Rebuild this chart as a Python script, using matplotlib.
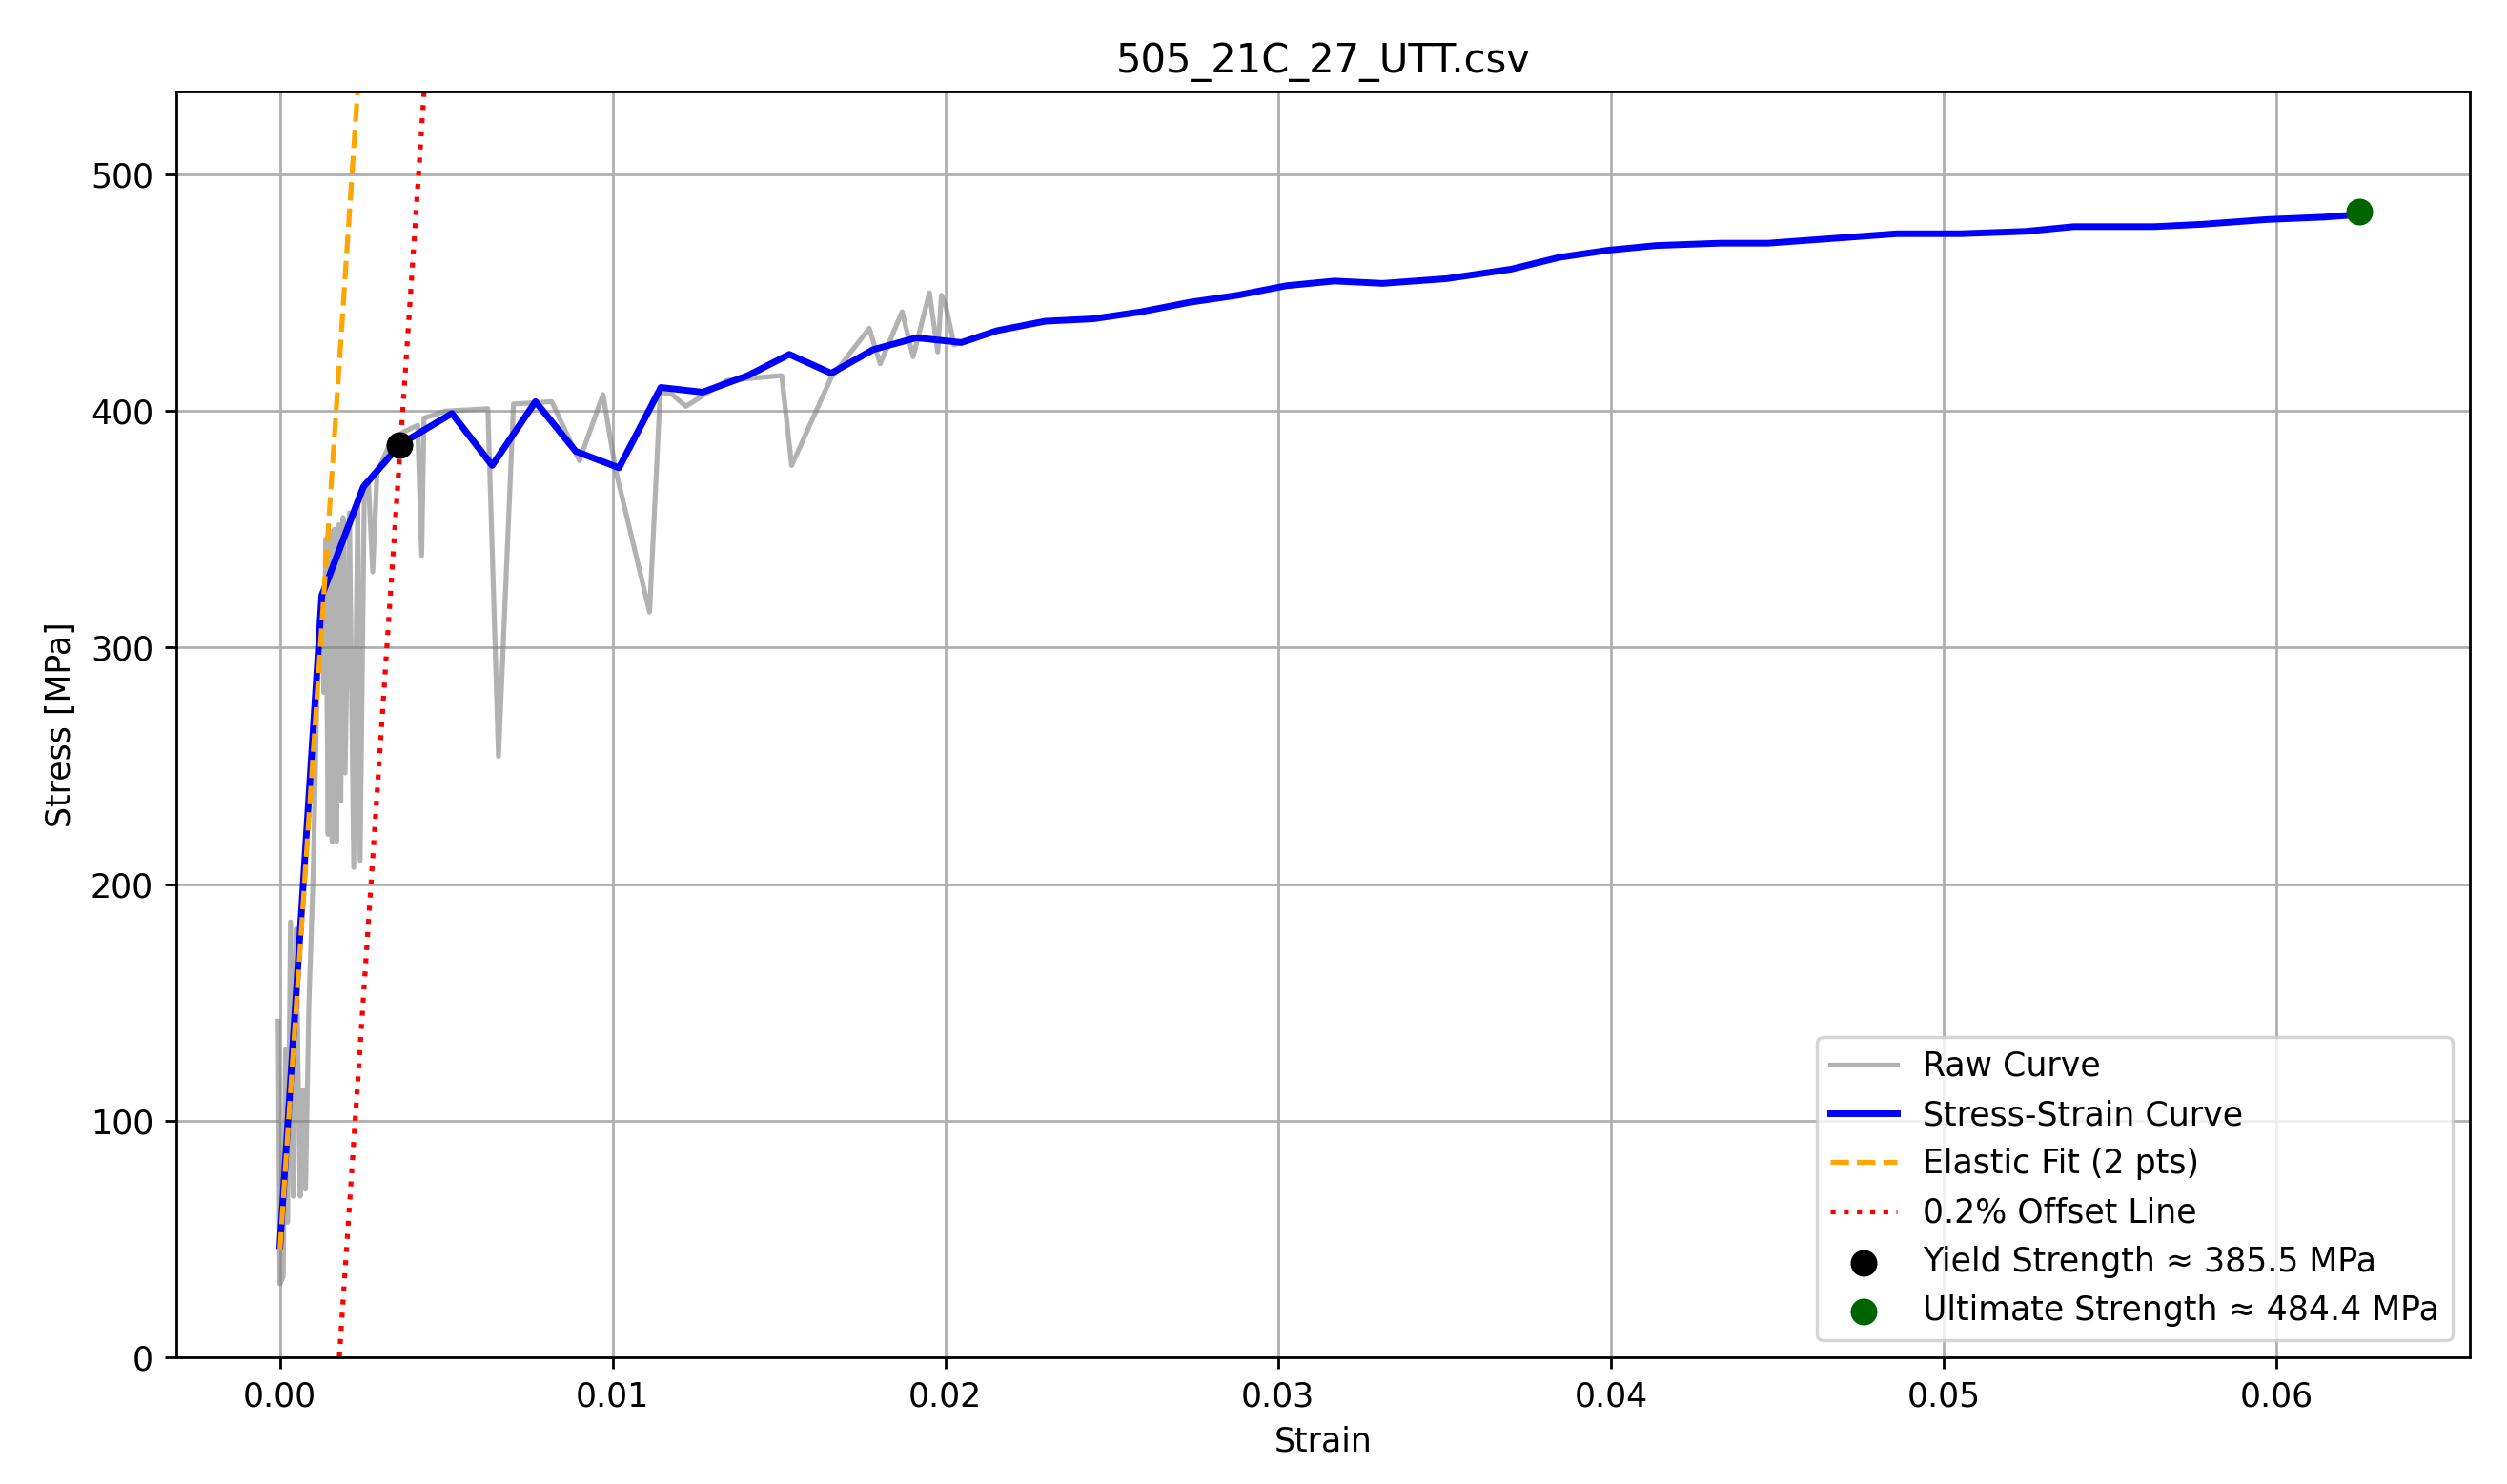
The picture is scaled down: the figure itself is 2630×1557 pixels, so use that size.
import numpy as np
import matplotlib
matplotlib.use("Agg")
import matplotlib.pyplot as plt

raw_strain = [-0.00005, 0, 0.0001, 0.00017, 0.00023, 0.00032, 0.0004, 0.00049, 0.00055, 0.00061, 0.00068,
              0.00077, 0.00087, 0.001, 0.00113, 0.00125, 0.00132, 0.00138, 0.00145, 0.00151, 0.00157, 0.00164,
              0.0017, 0.00177, 0.00183, 0.0019, 0.00196, 0.00209, 0.00222, 0.00234, 0.00241, 0.00254, 0.00266,
              0.00279, 0.00292, 0.0033, 0.00369, 0.00414, 0.00426, 0.00433, 0.00497, 0.00625, 0.00657, 0.00702,
              0.00817, 0.009, 0.00971, 0.01009, 0.01111, 0.01143, 0.01179, 0.0122, 0.01344, 0.01508, 0.01538,
              0.01656, 0.01771, 0.01804, 0.0187, 0.01903, 0.01952, 0.01977, 0.01988, 0.02002, 0.02026]
raw_stress = [142, 31, 34, 130, 57, 184, 68, 181, 119, 68, 113,
              71, 148, 204, 289, 323, 281, 346, 221, 349, 218, 350,
              218, 352, 235, 355, 247, 357, 207, 363, 210, 369, 370,
              332, 374, 386, 391, 394, 339, 397, 400, 401, 254, 403,
              404, 379, 407, 375, 315, 408, 407, 402, 413, 415, 377,
              414, 435, 420, 442, 423, 450, 425, 449, 444, 428]

ss_strain = [0, 0.00126, 0.00251, 0.00362, 0.00517, 0.00638, 0.00768, 0.00889, 0.01019, 0.01145, 0.0127,
             0.01406, 0.01531, 0.01657, 0.01783, 0.01913, 0.02048, 0.02155, 0.023, 0.02444, 0.02589, 0.02734,
             0.02879, 0.03024, 0.03169, 0.03314, 0.03507, 0.037, 0.03845, 0.0399, 0.04135, 0.04329, 0.04473,
             0.04667, 0.0486, 0.05053, 0.05246, 0.05391, 0.05633, 0.05778, 0.05971, 0.0614, 0.0624]
ss_stress = [47, 322, 368, 386, 399, 377, 404, 383, 376, 410, 408,
             415, 424, 416, 426, 431, 429, 434, 438, 439, 442, 446,
             449, 453, 455, 454, 456, 460, 465, 468, 470, 471, 471,
             473, 475, 475, 476, 478, 478, 479, 481, 482, 483]

E_mod = 210000.0
intercept = 45.0
yield_pt = (0.0036, 385.5)
ult_pt = (0.0625, 484.4)

rs = list(raw_strain) + [s for s in ss_strain if s > 0.0203]
rv = list(raw_stress) + [v for s, v in zip(ss_strain, ss_stress) if s > 0.0203]

fig = plt.figure(figsize=(10.52, 6.228), dpi=250)
ax = fig.add_axes([0.0705, 0.0856, 0.9145, 0.8525])
ax.plot(rs, rv, color="gray", alpha=0.6, lw=1.5, label="Raw Curve")
ax.plot(ss_strain, ss_stress, color="blue", lw=2, label="Stress-Strain Curve")
xe = np.array([0, 0.0026])
ax.plot(xe, E_mod * xe + intercept, "--", color="orange", lw=1.5, label="Elastic Fit (2 pts)")
xo = np.array([0.002 - intercept / E_mod, 0.0045])
ax.plot(xo, E_mod * (xo - 0.002) + intercept, ":", color="red", lw=1.5, label="0.2% Offset Line")
ax.scatter([yield_pt[0]], [yield_pt[1]], color="black", s=50, zorder=5,
           label=f"Yield Strength ≈ {yield_pt[1]:.1f} MPa")
ax.scatter([ult_pt[0]], [ult_pt[1]], color="darkgreen", s=50, zorder=5,
           label=f"Ultimate Strength ≈ {ult_pt[1]:.1f} MPa")
ax.set_xlim(-0.0031, 0.0658)
ax.set_ylim(0, 535)
ax.set_xlabel("Strain")
ax.set_ylabel("Stress [MPa]")
ax.set_title("505_21C_27_UTT.csv")
ax.grid(True)
ax.legend(loc="lower right")
fig.savefig("out.png", dpi=250)
